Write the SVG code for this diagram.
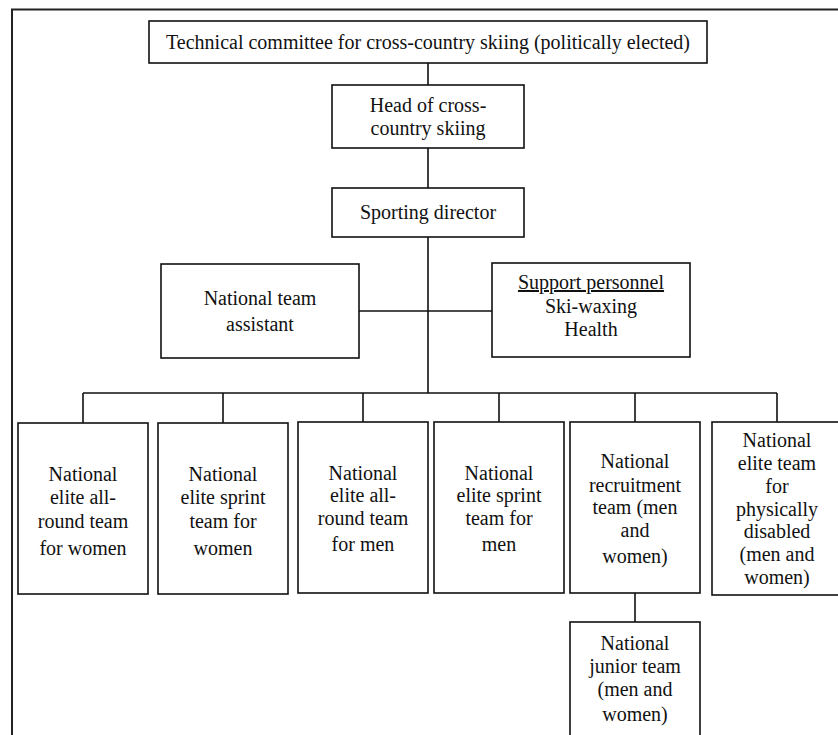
<svg xmlns="http://www.w3.org/2000/svg" width="838" height="735" viewBox="0 0 838 735">
<style>
.box{fill:#fff;stroke:#111;stroke-width:1.6}
.ln{fill:none;stroke:#111;stroke-width:1.6}
.frame{fill:none;stroke:#222;stroke-width:2}
text{font-family:"Liberation Serif","Times New Roman",serif;font-size:20px;fill:#111;text-anchor:middle}
</style>
<rect width="838" height="735" fill="#fff"/>
<path class="frame" d="M12,740 V9.5 H845"/>
<g id="connectors">
<path class="ln" d="M428,63 V85 M428,148 V188 M428,237 V393 M359,311 H492 M83,393 H777 M83,393 V423 M223,393 V423 M363,393 V422 M499,393 V422 M635,393 V422 M777,393 V422 M635,593 V622"/>
</g>
<g id="committee"><rect class="box" x="149" y="21" width="558" height="42"/><text x="428" y="49">Technical committee for cross-country skiing (politically elected)</text></g>
<g id="head"><rect class="box" x="332" y="85" width="192" height="63"/><text x="428" y="112">Head of cross-</text><text x="428" y="135">country skiing</text></g>
<g id="director"><rect class="box" x="332" y="188" width="192" height="49"/><text x="428" y="219">Sporting director</text></g>
<g id="assistant"><rect class="box" x="161" y="264" width="198" height="94"/><text x="260" y="305">National team</text><text x="260" y="331">assistant</text></g>
<g id="support"><rect class="box" x="492" y="263" width="198" height="94"/><text x="591" y="289" text-decoration="underline">Support personnel</text><text x="591" y="313">Ski-waxing</text><text x="591" y="336">Health</text></g>
<g id="team1"><rect class="box" x="18" y="423" width="130" height="171"/><text x="83" y="481">National</text><text x="83" y="504">elite all-</text><text x="83" y="528">round team</text><text x="83" y="555">for women</text></g>
<g id="team2"><rect class="box" x="158" y="423" width="130" height="171"/><text x="223" y="481">National</text><text x="223" y="504">elite sprint</text><text x="223" y="528">team for</text><text x="223" y="555">women</text></g>
<g id="team3"><rect class="box" x="298" y="422" width="130" height="171"/><text x="363" y="480">National</text><text x="363" y="502">elite all-</text><text x="363" y="525">round team</text><text x="363" y="551">for men</text></g>
<g id="team4"><rect class="box" x="434" y="422" width="130" height="171"/><text x="499" y="480">National</text><text x="499" y="502">elite sprint</text><text x="499" y="525">team for</text><text x="499" y="551">men</text></g>
<g id="team5"><rect class="box" x="570" y="422" width="130" height="171"/><text x="635" y="468">National</text><text x="635" y="492">recruitment</text><text x="635" y="514">team (men</text><text x="635" y="537">and</text><text x="635" y="563">women)</text></g>
<g id="team6"><rect class="box" x="712" y="422" width="130" height="173"/><text x="777" y="447">National</text><text x="777" y="470">elite team</text><text x="777" y="493">for</text><text x="777" y="516">physically</text><text x="777" y="538">disabled</text><text x="777" y="561">(men and</text><text x="777" y="584">women)</text></g>
<g id="junior"><rect class="box" x="570" y="622" width="130" height="120"/><text x="635" y="650">National</text><text x="635" y="673">junior team</text><text x="635" y="696">(men and</text><text x="635" y="721">women)</text></g>
</svg>
